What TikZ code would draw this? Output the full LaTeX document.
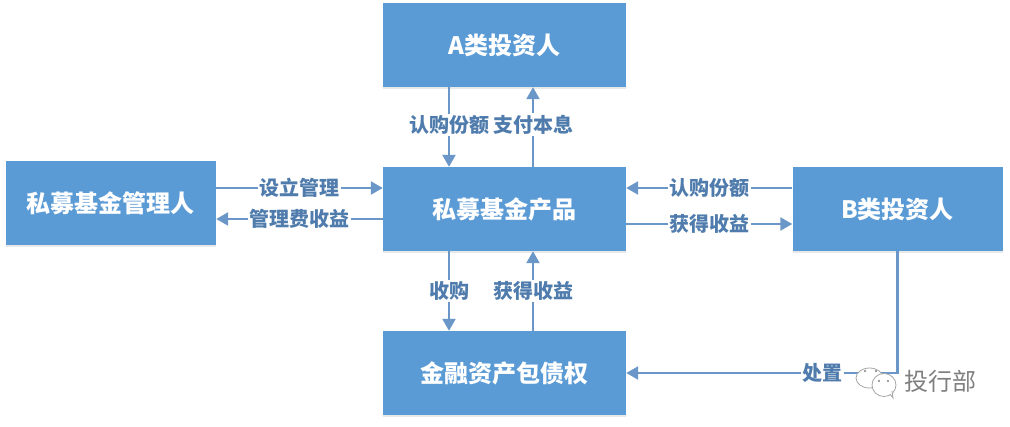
\documentclass[tikz,border=0pt]{standalone}
\usepackage{xcolor}
\usepackage{fontspec}
\setmainfont{Noto Sans CJK SC}
\usetikzlibrary{arrows.meta,shadows}
\definecolor{boxblue}{HTML}{5B9BD5}
\definecolor{linkblue}{HTML}{6A97C8}
\definecolor{labblue}{HTML}{4F7CAC}
\definecolor{markgray}{HTML}{7F7F7F}
\tikzset{
  party/.style={draw=none, fill=boxblue, text=white, font=\fontsize{24}{28}\selectfont\bfseries,
    minimum height=84pt, inner sep=0pt, drop shadow={opacity=0.18, shadow xshift=0pt, shadow yshift=-2pt}},
  wide/.style={party, minimum width=243pt},
  narrow/.style={party, minimum width=210pt},
  flow/.style={draw=linkblue, line width=2.4pt, -{Triangle[length=12pt,width=13pt]}},
  lab/.style={text=labblue, fill=white, inner sep=1.5pt, font=\fontsize{20}{24}\selectfont\bfseries},
  bubble/.style={draw=markgray!70, fill=white, line width=0.8pt},
  brandlab/.style={text=markgray, font=\fontsize{24}{28}\selectfont},
}
\begin{document}
\begin{tikzpicture}[x=1pt,y=-1pt]
  \useasboundingbox (0,0) rectangle (1010,426);
  \node[wide] (classa) at (504.5,45) {A类投资人};
  \node[wide] (fund) at (504.5,209) {私募基金产品};
  \node[wide] (asset) at (504.5,373) {金融资产包债权};
  \node[narrow] (manager) at (111,203) {私募基金管理人};
  \node[narrow] (classb) at (897.5,209) {B类投资人};
  \coordinate (upper) at (0,188);
  \coordinate (lower) at (0,219);
  \coordinate (gain) at (0,224);
  \coordinate (leftx) at (449,0);
  \coordinate (rightx) at (533,0);
  % left pair
  \draw[flow] (manager.east |- upper) -- node[lab] {设立管理} (fund.west |- upper);
  \draw[flow] (fund.west |- lower) -- node[lab] {管理费收益} (manager.east |- lower);
  % top pair
  \draw[flow] (classa.south -| leftx) -- node[lab,pos=0.47] {认购份额} (fund.north -| leftx);
  \draw[flow] (fund.north -| rightx) -- node[lab,pos=0.53] {支付本息} (classa.south -| rightx);
  % right pair
  \draw[flow] (classb.west |- upper) -- node[lab] {认购份额} (fund.east |- upper);
  \draw[flow] (fund.east |- gain) -- node[lab] {获得收益} (classb.west |- gain);
  % bottom pair
  \draw[flow] (fund.south -| leftx) -- node[lab] {收购} (asset.north -| leftx);
  \draw[flow] (asset.north -| rightx) -- node[lab] {获得收益} (fund.south -| rightx);
  \draw[flow] (classb.south) -- (classb.south |- asset.east) -- node[lab,pos=0.277] {处置} (asset.east);
  % watermark
  \draw[bubble] (880,385) -- (877,388) -- (877,382) (869.5,378) ellipse [x radius=13.5pt, y radius=10pt];
  \draw[bubble] (884,385) ellipse [x radius=12pt, y radius=11.5pt];
  \draw[bubble] (890,394) -- (893,398) -- (892,391);
  \foreach \dotx/\doty in {865/371,876/371,879/381,888/381}
    \fill[markgray] (\dotx,\doty) circle (1.2pt);
  \node[brandlab] (brand) at (940.5,381) {投行部};
\end{tikzpicture}
\end{document}
